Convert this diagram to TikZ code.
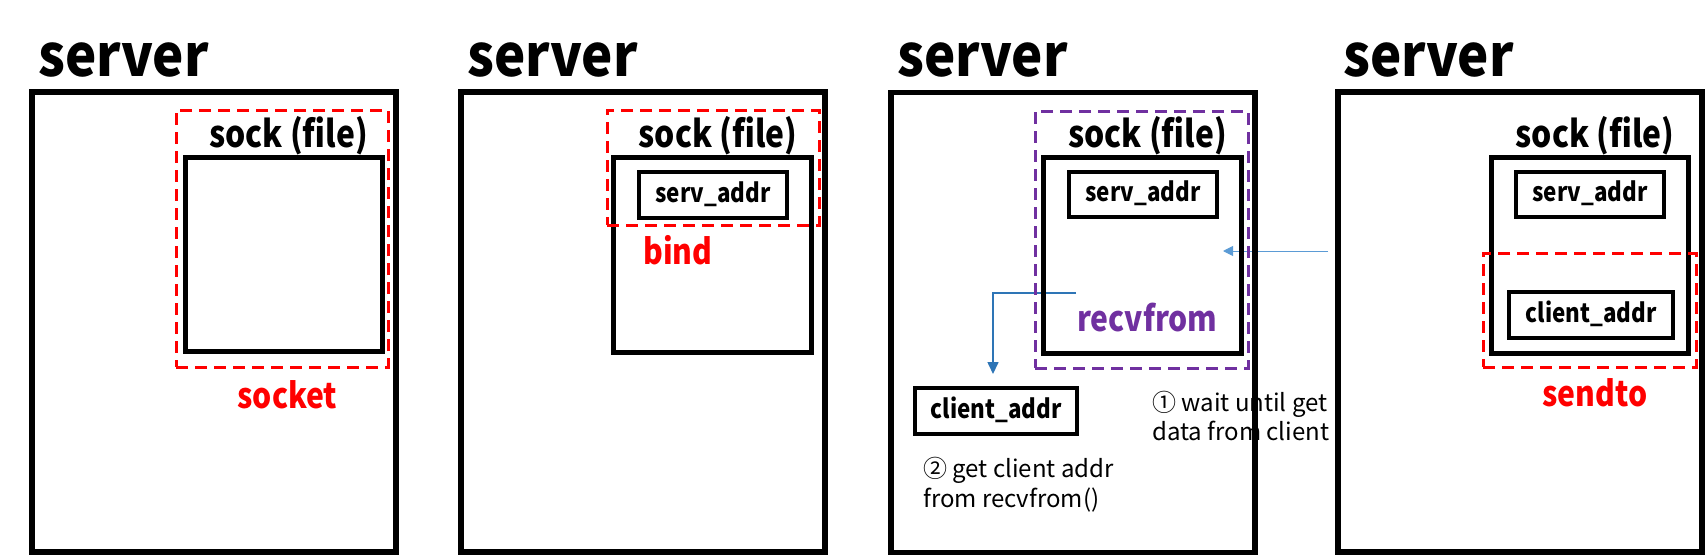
\documentclass[tikz,border=0pt]{standalone}
\usepackage{fontspec}
\setmainfont{Noto Sans CJK KR}
\newfontfamily\ttlfont[FakeStretch=0.91]{Noto Sans CJK KR}
\newfontfamily\cndfont[FakeStretch=0.86]{Noto Sans CJK KR}
\usetikzlibrary{arrows.meta}
\definecolor{myred}{RGB}{255,0,0}
\definecolor{mypurple}{RGB}{112,48,160}
\definecolor{lblue}{RGB}{91,155,213}
\definecolor{dblue}{RGB}{46,117,182}
\begin{document}
\begin{tikzpicture}[x=1pt,y=-1pt,
  outerbox/.style={draw, line width=5.3pt, inner sep=0, minimum width=364pt, minimum height=460pt},
  sockbox/.style={draw, line width=5pt, inner sep=0},
  addrbox/.style={draw, line width=4pt, inner sep=0, font=\cndfont\fontsize{26}{30}\selectfont\bfseries, text height=19pt, text depth=5pt},
  selbox/.style={draw, line width=3pt, dash pattern=on 12pt off 7pt, inner sep=0},
  title/.style={inner sep=0, anchor=base west, font=\ttlfont\fontsize{58}{60}\selectfont\bfseries},
  socklbl/.style={inner sep=0, anchor=base, font=\cndfont\fontsize{37}{40}\selectfont\bfseries},
  oplbl/.style={inner sep=0, font=\cndfont\fontsize{35}{40}\selectfont\bfseries},
  note/.style={inner sep=0, anchor=base west, font=\fontsize{24}{29}\selectfont}
]
\useasboundingbox (0,0) rectangle (1705,555);

% notes (behind box lines)
\node[note] (n1a) at (1152,411) {① wait until get};
\node[note] (n1b) at (1152,440) {data from client};
\node[note] (n2a) at (923,477) {② get client addr};
\node[note] (n2b) at (923,507) {from recvfrom()};

% arrow end points
\coordinate (inA) at (1328,251);
\coordinate (inB) at (1223,251);
\coordinate (dnA) at (1076,293);
\coordinate (dnB) at (993,374);

% titles
\node[title] (t1) at (38,76) {server};
\node[title] (t2) at (467,76) {server};
\node[title] (t3) at (897,76) {server};
\node[title] (t4) at (1343,76) {server};

% arrows (behind boxes)
\draw[lblue, line width=1pt, -{Triangle[length=10pt,width=10pt]}] (inA) -- (inB);
\draw[dblue, line width=1.6pt, -{Triangle[length=12pt,width=11pt]}] (dnA) -| (dnB);

% outer boxes
\node[outerbox] (p1) at (214,322) {};
\node[outerbox] (p2) at (643,322) {};
\node[outerbox] (p3) at (1073,322.5) {};
\node[outerbox] (p4) at (1520,322) {};

% sock labels
\node[socklbl] (l1) at (288.5,147) {sock (file)};
\node[socklbl] (l2) at (718,147) {sock (file)};
\node[socklbl] (l3) at (1147.5,147) {sock (file)};
\node[socklbl] (l4) at (1595,147) {sock (file)};

% sock boxes
\node[sockbox, minimum width=197pt, minimum height=194pt] (s1) at (283.5,254) {};
\node[sockbox, minimum width=198pt, minimum height=195pt] (s2) at (712,254.5) {};
\node[sockbox, minimum width=198pt, minimum height=196pt] (s3) at (1142,255) {};
\node[sockbox, minimum width=197pt, minimum height=196pt] (s4) at (1589.5,255) {};

% addr boxes
\node[addrbox, minimum width=148pt, minimum height=46pt] (sa2) at (713,195) {serv\_addr};
\node[addrbox, minimum width=148pt, minimum height=45pt] (sa3) at (1143,194.5) {serv\_addr};
\node[addrbox, minimum width=148pt, minimum height=45pt] (sa4) at (1590,194.5) {serv\_addr};
\node[addrbox, minimum width=162pt, minimum height=46pt] (ca3) at (996,411) {client\_addr};
\node[addrbox, minimum width=164pt, minimum height=46pt] (ca4) at (1591,315) {client\_addr};

% selection boxes
\node[selbox, myred, minimum width=212pt, minimum height=257pt] (sel1) at (282,238.5) {};
\node[selbox, myred, minimum width=212pt, minimum height=115pt] (sel2) at (713,167.5) {};
\node[selbox, mypurple, minimum width=213pt, minimum height=257pt] (sel3) at (1141.5,239.5) {};
\node[selbox, myred, minimum width=213pt, minimum height=114pt] (sel4) at (1589.5,310) {};

% operation labels
\node[oplbl, myred, anchor=base] (o1) at (287.5,408) {socket};
\node[oplbl, myred, anchor=base west] (o2) at (643,264) {bind};
\node[oplbl, mypurple, anchor=base west] (o3) at (1077,331) {recvfrom};
\node[oplbl, myred, anchor=base] (o4) at (1595,406) {sendto};
\end{tikzpicture}
\end{document}
